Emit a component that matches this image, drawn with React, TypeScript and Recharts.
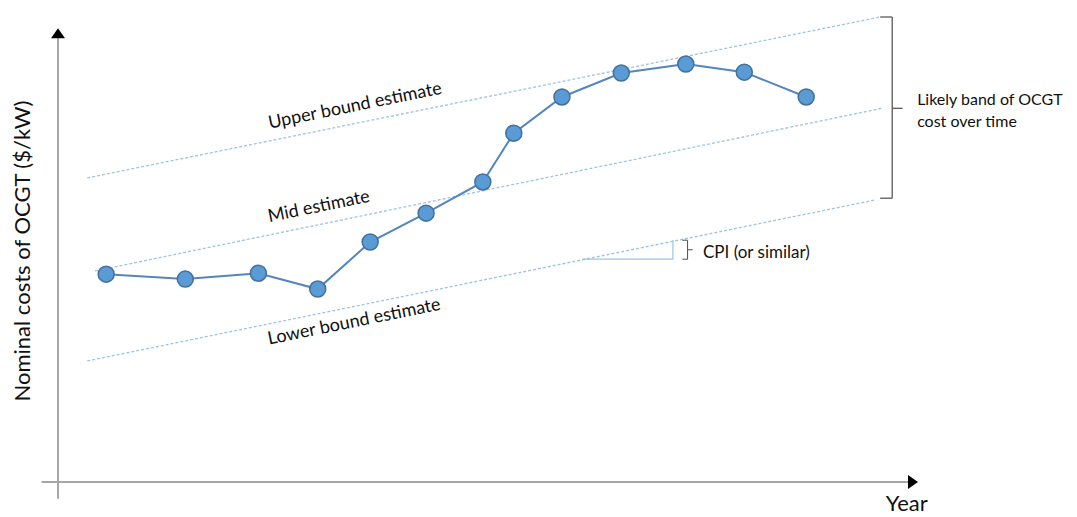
import React from 'react';
import { ComposedChart, Line, XAxis, YAxis, ReferenceLine, ReferenceDot } from 'recharts';

// Observed OCGT nominal cost (arbitrary units) over time (arbitrary year index)
const years = [5.6, 14.8, 23.3, 30.2, 36.3, 42.8, 49.4, 53.0, 58.6, 65.5, 73.0, 79.8, 87.0];
const costs = [46.0, 44.9, 46.2, 42.7, 53.1, 59.5, 66.4, 77.2, 85.2, 90.5, 92.5, 90.7, 85.2];

// Estimate bands: [start, end] as [year, cost]
const upperBound = [[3.4, 67.3], [95.6, 102.9]];
const midEstimate = [[4.3, 46.7], [95.8, 82.7]];
const lowerBound = [[3.4, 26.8], [95.0, 62.4]];

const costData = years.map((x, i) => ({ x, y: costs[i] }));
const toPts = (arr: number[][]) => arr.map(([x, y]) => ({ x, y }));

const FONT = 'Lato, "Open Sans", sans-serif';
const AXIS_GRAY = '#a6a6a6';
const BAND = '#9dc3e6';
const BRACE = '#595959';

const arrowShape = (p: any) => {
  const { x1, y1, x2, y2 } = p;
  const dx = x2 - x1;
  const dy = y2 - y1;
  const len = Math.sqrt(dx * dx + dy * dy) || 1;
  const ux = dx / len;
  const uy = dy / len;
  const L = 10;
  const W = 7;
  const bx = x2 - ux * L;
  const by = y2 - uy * L;
  const pts = `${x2},${y2} ${bx - uy * W},${by + ux * W} ${bx + uy * W},${by - ux * W}`;
  return (
    <g>
      <line x1={x1} y1={y1} x2={bx} y2={by} stroke={AXIS_GRAY} strokeWidth={2} />
      <polygon points={pts} fill="#000" />
    </g>
  );
};

const textShape = (txt: string, opts: { size: number; angle?: number; anchor?: string }) => (p: any) => {
  const { cx, cy } = p;
  const a = opts.angle || 0;
  return (
    <text
      x={cx}
      y={cy}
      fontFamily={FONT}
      fontSize={opts.size}
      fill="#111"
      textAnchor={(opts.anchor as any) || 'middle'}
      dominantBaseline="central"
      transform={a ? `rotate(${a} ${cx} ${cy})` : undefined}
    >
      {txt}
    </text>
  );
};

const seg = (x1: number, y1: number, x2: number, y2: number, stroke: string, w = 1.3) => (
  <ReferenceLine
    key={`${x1}-${y1}-${x2}-${y2}`}
    segment={[{ x: x1, y: y1 }, { x: x2, y: y2 }]}
    stroke={stroke}
    strokeWidth={w}
    ifOverflow="visible"
  />
);

export default function App() {
  return (
    <div style={{ position: 'absolute', left: 0, top: 0, background: '#fff' }}>
      <ComposedChart
        width={1077}
        height={517}
        margin={{ top: 3, right: 159, bottom: 35, left: 58 }}
      >
        <XAxis dataKey="x" type="number" domain={[0, 100]} hide allowDataOverflow />
        <YAxis type="number" domain={[0, 106]} hide allowDataOverflow />

        {/* axes with arrows */}
        <ReferenceLine segment={[{ x: 0, y: -3.7 }, { x: 0, y: 100.4 }]} ifOverflow="visible" shape={arrowShape} />
        <ReferenceLine segment={[{ x: -1.9, y: 0 }, { x: 100, y: 0 }]} ifOverflow="visible" shape={arrowShape} />

        {/* estimate bands */}
        <Line data={toPts(upperBound)} dataKey="y" stroke={BAND} strokeWidth={1.3} strokeDasharray="3 2" dot={false} isAnimationActive={false} />
        <Line data={toPts(midEstimate)} dataKey="y" stroke={BAND} strokeWidth={1.3} strokeDasharray="3 2" dot={false} isAnimationActive={false} />
        <Line data={toPts(lowerBound)} dataKey="y" stroke={BAND} strokeWidth={1.3} strokeDasharray="3 2" dot={false} isAnimationActive={false} />

        {/* big brace on right */}
        {seg(95.6, 102.9, 97.0, 102.9, BRACE)}
        {seg(97.0, 102.9, 97.0, 62.8, BRACE)}
        {seg(95.6, 62.8, 97.0, 62.8, BRACE)}
        {seg(97.0, 82.7, 98.2, 82.7, BRACE)}

        {/* CPI step */}
        {seg(61.0, 49.3, 71.5, 49.3, BAND, 1.2)}
        {seg(71.5, 49.3, 71.5, 53.5, BAND, 1.2)}
        {seg(72.6, 53.5, 73.2, 53.5, BRACE, 1.1)}
        {seg(73.2, 53.5, 73.2, 49.3, BRACE, 1.1)}
        {seg(72.6, 49.3, 73.2, 49.3, BRACE, 1.1)}
        {seg(73.2, 51.4, 73.8, 51.4, BRACE, 1.1)}

        {/* observed cost */}
        <Line
          data={costData}
          dataKey="y"
          stroke="#5585bf"
          strokeWidth={2}
          dot={{ r: 8, fill: '#5b9bd5', stroke: '#41719c', strokeWidth: 1.5 }}
          isAnimationActive={false}
        />

        {/* labels */}
        <ReferenceDot x={34.5} y={83.6} r={0} ifOverflow="visible" shape={textShape('Upper bound estimate', { size: 18, angle: -11.5 })} />
        <ReferenceDot x={30.3} y={61.3} r={0} ifOverflow="visible" shape={textShape('Mid estimate', { size: 18, angle: -11.5 })} />
        <ReferenceDot x={34.4} y={35.8} r={0} ifOverflow="visible" shape={textShape('Lower bound estimate', { size: 18, angle: -11.5 })} />
        <ReferenceDot x={99.9} y={84.9} r={0} ifOverflow="visible" shape={textShape('Likely band of OCGT', { size: 16, anchor: 'start' })} />
        <ReferenceDot x={99.9} y={80.1} r={0} ifOverflow="visible" shape={textShape('cost over time', { size: 16, anchor: 'start' })} />
        <ReferenceDot x={75.0} y={51.1} r={0} ifOverflow="visible" shape={textShape('CPI (or similar)', { size: 17, anchor: 'start' })} />
        <ReferenceDot x={-4.2} y={51.1} r={0} ifOverflow="visible" shape={textShape('Nominal costs of OCGT ($/kW)', { size: 22, angle: -90 })} />
        <ReferenceDot x={98.7} y={-4.5} r={0} ifOverflow="visible" shape={textShape('Year', { size: 22 })} />
      </ComposedChart>
    </div>
  );
}
